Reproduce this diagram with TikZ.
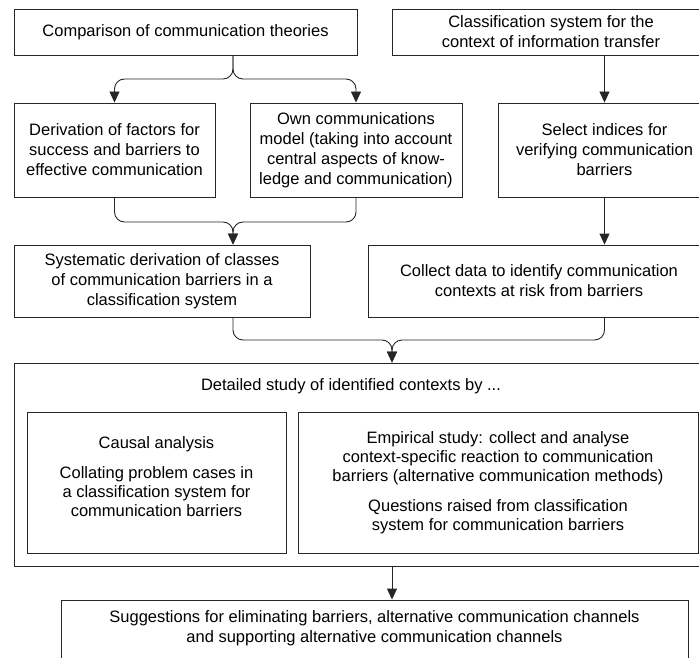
\documentclass[tikz,border=0pt]{standalone}
\usepackage{fontspec}
\setmainfont{Liberation Sans}
\usetikzlibrary{arrows.meta,calc}
\begin{document}
\begin{tikzpicture}[x=1pt,y=-1pt,
  box/.style={draw=black!85, line width=0.9pt, align=center, inner sep=0pt, font=\fontsize{16.5}{20}\selectfont},
  boxs/.style={box, font=\fontsize{16.5}{19}\selectfont},
  txt/.style={align=center, inner sep=0pt, font=\fontsize{16.5}{20}\selectfont},
  conn/.style={draw=black!85, line width=0.9pt, rounded corners=10pt, -{Triangle[length=11pt,width=10pt]}}]
\useasboundingbox (0,0) rectangle (699,658);
\clip (0,0) rectangle (699,658);
% row 1
\node[box, minimum width=343, minimum height=46] (A) at (185.5,32) {Comparison of communication theories};
\node[box, minimum width=318, minimum height=46] (B) at (551,32) {Classification system for the\\context of information transfer};
% row 2
\node[box, minimum width=201, minimum height=94] (C) at (114.5,150) {Derivation of factors for\\success and barriers to\\effective communication};
\node[box, minimum width=212, minimum height=94] (D) at (356,150) {Own communications\\model (taking into account\\central aspects of know-\\ledge and communication)};
\node[box, minimum width=213, minimum height=94] (E) at (604.5,150) {Select indices for\\verifying communication\\barriers};
% row 3
\node[box, minimum width=296, minimum height=72] (F) at (162,281) {Systematic derivation of classes\\of communication barriers in a\\classification system};
\node[box, minimum width=342, minimum height=72] (G) at (539,281) {Collect data to identify communication\\contexts at risk from barriers};
% big box
\node[box, minimum width=698, minimum height=203] (H) at (363,464.5) {};
\node[txt] (Ht) at (351,386) {Detailed study of identified contexts by ...};
\node[boxs, minimum width=259, minimum height=141] (I) at (156.5,482.5) {};
\node[txt, font=\fontsize{16.5}{19}\selectfont, anchor=north] (It) at (156.5,436) {Causal analysis\\[11pt]Collating problem cases in\\a classification system for\\communication barriers};
\node[boxs, minimum width=400, minimum height=141] (J) at (498,482.5) {};
\node[txt, font=\fontsize{16.5}{19}\selectfont, anchor=north] (Jt) at (498,431) {Empirical study: collect and analyse\\context-specific reaction to communication\\barriers (alternative communication methods)\\[11pt]Questions raised from classification\\system for communication barriers};
% bottom box
\node[box, minimum width=627, minimum height=80] (K) at (374.5,640) {};
\node[txt] (Kt) at (374.5,628) {Suggestions for eliminating barriers, alternative communication channels\\and supporting alternative communication channels};
% connectors
\coordinate (s1) at (233,79);
\coordinate (m1) at (233,222);
\coordinate (m2) at (392,340);
\draw[conn] (A.south -| s1) -- (s1) -| (C.north);
\draw[conn] (A.south -| s1) -- (s1) -| (D.north);
\draw[conn] (B.south -| E.north) -- (E.north);
\draw[conn] (C.south) |- (m1) -- (F.north -| m1);
\draw[conn] (D.south) |- (m1) -- (F.north -| m1);
\draw[conn] (E.south) -- (G.north -| E.south);
\draw[conn] (F.south -| m1) |- (m2) -- (H.north -| m2);
\draw[conn] (G.south -| E.south) |- (m2) -- (H.north -| m2);
\draw[conn] (H.south -| m2) -- (K.north -| m2);
\end{tikzpicture}
\end{document}
